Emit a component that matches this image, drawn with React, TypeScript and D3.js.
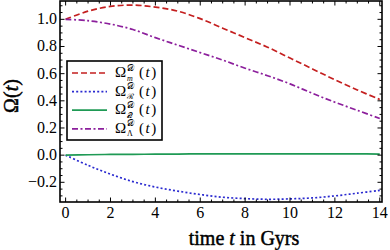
import React from "react";
import * as d3 from "d3";

// time in Gyrs
const times = [0, 1, 2, 3, 4, 5, 6, 7, 8, 9, 10, 11, 12, 13, 14];

// density parameters
const omegaM = [1.0, 1.06, 1.095, 1.105, 1.09, 1.06, 1.005, 0.935, 0.865, 0.795, 0.715, 0.635, 0.555, 0.48, 0.41];
const omegaR = [0, -0.075, -0.14, -0.195, -0.235, -0.265, -0.29, -0.31, -0.32, -0.325, -0.322, -0.315, -0.3, -0.28, -0.26];
const omegaQ = [0, 0.003, 0.005, 0.006, 0.007, 0.008, 0.009, 0.009, 0.01, 0.01, 0.01, 0.01, 0.009, 0.009, 0.008];
const omegaL = [1.0, 0.99, 0.965, 0.925, 0.865, 0.81, 0.755, 0.7, 0.64, 0.585, 0.525, 0.455, 0.39, 0.33, 0.27];

const xTicks = [0, 2, 4, 6, 8, 10, 12, 14];
const yTicks = [-0.2, 0.0, 0.2, 0.4, 0.6, 0.8, 1.0];

const series = [
  { name: "m", values: omegaM, color: "#c41f1f", dash: "6,3", sub: "m" },
  { name: "R", values: omegaR, color: "#2a2ad0", dash: "2,2.2", sub: "ℛ" },
  { name: "Q", values: omegaQ, color: "#1f9a55", dash: "", sub: "𝒬" },
  { name: "L", values: omegaL, color: "#8c1f9c", dash: "6,2.5,2,2.5", sub: "Λ" },
];

const W = 390;
const H = 250;
const font = "'Liberation Serif', 'DejaVu Serif', serif";

const App: React.FC = () => {
  const x = d3.scaleLinear().domain([-0.25, 14.1]).range([60, 382]);
  const y = d3.scaleLinear().domain([-0.345, 1.135]).range([202, 1]);

  const line = d3
    .line<number>()
    .x((_, i) => x(times[i]))
    .y((d) => y(d))
    .curve(d3.curveCatmullRom);

  const xMinor = d3.range(0, 14.01, 0.5);
  const yMinor = d3.range(-0.3, 1.11, 0.05);
  const [x0, x1] = x.range();
  const [y0, y1] = y.range();

  const legendRow = (i: number) => 73 + i * 18.6;

  return (
    <svg width={W} height={H} style={{ position: "absolute", left: 0, top: 0 }} fontFamily={font}>
      <rect width={W} height={H} fill="white" />
      <defs>
        <clipPath id="plot">
          <rect x={x0} y={y1} width={x1 - x0} height={y0 - y1} />
        </clipPath>
      </defs>

      <g clipPath="url(#plot)">
        {series.map((s) => (
          <path
            key={s.name}
            d={line(s.values) ?? ""}
            fill="none"
            stroke={s.color}
            strokeWidth={1.7}
            strokeDasharray={s.dash}
          />
        ))}
      </g>

      {/* ticks, inward on all four sides */}
      <g stroke="black" strokeWidth={1}>
        {xMinor.map((t) => {
          const len = t % 2 === 0 ? 4.5 : 2.5;
          return (
            <g key={"xm" + t}>
              <line x1={x(t)} x2={x(t)} y1={y0} y2={y0 - len} />
              <line x1={x(t)} x2={x(t)} y1={y1} y2={y1 + len} />
            </g>
          );
        })}
        {yMinor.map((v, i) => {
          const major = yTicks.some((m) => Math.abs(m - v) < 1e-6);
          const len = major ? 4.5 : 2.5;
          return (
            <g key={"ym" + i}>
              <line x1={x0} x2={x0 + len} y1={y(v)} y2={y(v)} />
              <line x1={x1} x2={x1 - len} y1={y(v)} y2={y(v)} />
            </g>
          );
        })}
      </g>

      <rect x={x0} y={y1} width={x1 - x0} height={y0 - y1} fill="none" stroke="black" strokeWidth={1.6} />

      {/* tick labels */}
      <g fontSize={16} fill="black">
        {xTicks.map((t) => (
          <text key={"xl" + t} x={x(t)} y={218} textAnchor="middle">
            {t}
          </text>
        ))}
        {yTicks.map((v) => (
          <text key={"yl" + v} x={57} y={y(v) + 5} textAnchor="end">
            {(v < 0 ? "\u2212" : "") + Math.abs(v).toFixed(1)}
          </text>
        ))}
      </g>

      {/* axis titles */}
      <g fontSize={20} stroke="black" strokeWidth={0.45}>
        <text x={244} y={245} textAnchor="middle">
          time <tspan fontStyle="italic">t</tspan> in Gyrs
        </text>
        <text transform="translate(18,96) rotate(-90)" textAnchor="middle">
          Ω(<tspan fontStyle="italic">t</tspan>)
        </text>
      </g>

      {/* legend */}
      <rect x={67} y={61} width={95} height={79} fill="white" stroke="black" strokeWidth={1.6} />
      {series.map((s, i) => {
        const ry = legendRow(i);
        return (
          <g key={"lg" + s.name}>
            <line x1={72} x2={107} y1={ry} y2={ry} stroke={s.color} strokeWidth={1.7} strokeDasharray={s.dash} />
            <text x={115} y={ry + 4} fontSize={15}>
              Ω
            </text>
            <text x={127} y={ry - 2.5} fontSize={9}>
              𝒟
            </text>
            <text x={127} y={ry + 7.5} fontSize={8} fontStyle={s.sub === "m" ? "italic" : "normal"}>
              {s.sub}
            </text>
            <text x={139} y={ry + 4} fontSize={15} letterSpacing={1.5}>
              (<tspan fontStyle="italic">t</tspan>)
            </text>
          </g>
        );
      })}
    </svg>
  );
};

export default App;
